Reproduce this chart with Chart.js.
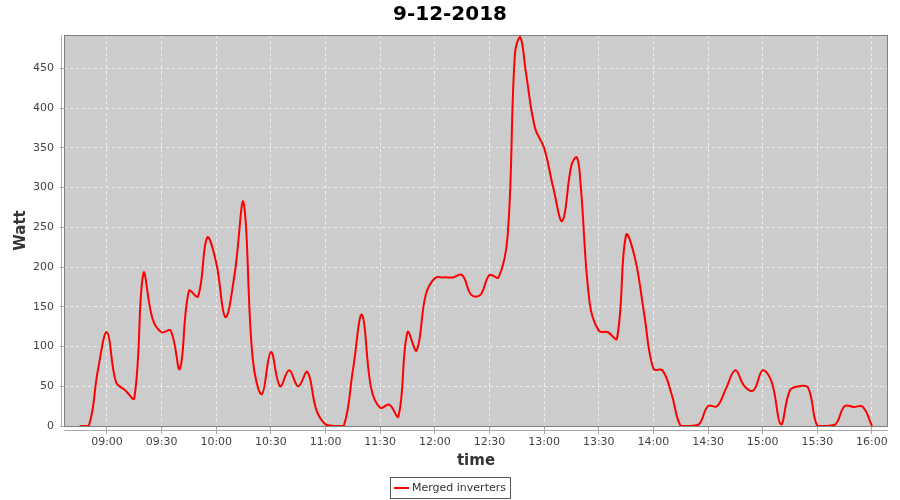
<!DOCTYPE html>
<html>
<head>
<meta charset="utf-8">
<script src="https://cdn.jsdelivr.net/npm/chart.js@4.4.1/dist/chart.umd.min.js"></script>
<style>
  html, body { margin: 0; padding: 0; background: #fff; }
  #wrap { width: 900px; height: 500px; }
</style>
</head>
<body>
<div id="wrap"><canvas id="myChart"></canvas></div>
<script>
const times = [
  "08:45", "08:50", "08:55", "09:00", "09:05", "09:10", "09:15", "09:20", "09:25", "09:30",
  "09:35", "09:40", "09:45", "09:50", "09:55", "10:00", "10:05", "10:10", "10:15", "10:20",
  "10:25", "10:30", "10:35", "10:40", "10:45", "10:50", "10:55", "11:00", "11:05", "11:10",
  "11:15", "11:20", "11:25", "11:30", "11:35", "11:40", "11:45", "11:50", "11:55", "12:00",
  "12:05", "12:10", "12:15", "12:20", "12:25", "12:30", "12:35", "12:40", "12:44", "12:47",
  "12:50", "12:55", "13:00", "13:05", "13:10", "13:15", "13:18", "13:20", "13:25", "13:30",
  "13:35", "13:40", "13:45", "13:50", "13:55", "14:00", "14:05", "14:10", "14:15", "14:20",
  "14:25", "14:30", "14:35", "14:40", "14:45", "14:50", "14:55", "15:00", "15:05", "15:10",
  "15:15", "15:20", "15:25", "15:30", "15:35", "15:40", "15:45", "15:50", "15:55", "16:00",
];
const watt = [
  0, 0, 70, 118, 55, 45, 35, 192, 135, 118,
  120, 72, 170, 163, 237, 205, 137, 190, 281, 85,
  40, 93, 50, 70, 50, 68, 20, 2, 0, 0,
  70, 140, 48, 23, 27, 12, 118, 95, 165, 186,
  187, 187, 190, 165, 165, 190, 187, 240, 469, 489,
  445, 375, 350, 300, 258, 328, 338, 305, 155, 120,
  118, 110, 240, 210, 140, 72, 70, 40, 0, 0,
  2, 25, 25, 48, 70, 50, 45, 70, 55, 2,
  45, 50, 48, 0, 0, 2, 25, 24, 24, 0,
];
const xTicks = ["09:00", "09:30", "10:00", "10:30", "11:00", "11:30", "12:00", "12:30",
  "13:00", "13:30", "14:00", "14:30", "15:00", "15:30", "16:00"];
const yTicks = [0, 50, 100, 150, 200, 250, 300, 350, 400, 450];

const toMin = s => { const p = s.split(":"); return +p[0] * 60 + +p[1]; };
const fmt = m => {
  const h = Math.floor(m / 60), mm = Math.round(m % 60);
  return String(h).padStart(2, "0") + ":" + String(mm).padStart(2, "0");
};

const points = times.map((t, i) => ({ x: toMin(t), y: watt[i] }));

// gray plot background, outline, offset axis lines and the boxed legend
const plotFrame = {
  id: "plotFrame",
  beforeDraw(chart) {
    const { ctx, chartArea: a } = chart;
    ctx.save();
    ctx.fillStyle = "#cccccc";
    ctx.fillRect(a.left, a.top, a.right - a.left, a.bottom - a.top);
    ctx.restore();
  },
  afterDraw(chart) {
    const { ctx, chartArea: a } = chart;
    ctx.save();
    ctx.strokeStyle = "#808080";
    ctx.lineWidth = 1;
    ctx.strokeRect(a.left + 0.5, a.top + 0.5, a.right - a.left - 1, a.bottom - a.top);
    ctx.strokeStyle = "#aaaaaa";
    ctx.beginPath();
    ctx.moveTo(a.left, a.bottom + 4.5);
    ctx.lineTo(a.right, a.bottom + 4.5);
    ctx.moveTo(a.left - 2.5, a.top);
    ctx.lineTo(a.left - 2.5, a.bottom);
    ctx.stroke();

    // legend
    const ds = chart.data.datasets[0];
    ctx.font = "11px 'DejaVu Sans'";
    const tw = ctx.measureText(ds.label).width;
    const w = Math.round(4 + 15 + 3 + tw + 4);
    const x0 = Math.round(450 - w / 2);
    const y0 = 477, h = 21, cy = y0 + h / 2;
    ctx.strokeStyle = "#555";
    ctx.strokeRect(x0 + 0.5, y0 + 0.5, w, h);
    ctx.strokeStyle = ds.borderColor;
    ctx.lineWidth = 2;
    ctx.beginPath();
    ctx.moveTo(x0 + 4, cy + 0.5);
    ctx.lineTo(x0 + 19, cy + 0.5);
    ctx.stroke();
    ctx.fillStyle = "#333";
    ctx.textBaseline = "middle";
    ctx.textAlign = "left";
    ctx.fillText(ds.label, x0 + 22, cy + 1);
    ctx.restore();
  },
};

const ctx = document.getElementById("myChart");

new Chart(ctx, {
  type: "line",
  data: {
    datasets: [
      {
        label: "Merged inverters",
        data: points,
        borderColor: "#ff0000",
        backgroundColor: "#ff0000",
        borderWidth: 2,
        pointRadius: 0,
        tension: 0.4,
        fill: false,
      },
    ],
  },
  options: {
    responsive: true,
    maintainAspectRatio: false,
    animation: false,
    layout: { padding: { left: 12, right: 12, top: 0, bottom: 20 } },
    plugins: {
      title: {
        display: true,
        text: "9-12-2018",
        color: "#000",
        font: { family: "DejaVu Sans", size: 20, weight: "bold" },
        padding: { top: 3, bottom: 8 },
      },
      legend: { display: false },
      tooltip: { enabled: false },
    },
    scales: {
      x: {
        type: "linear",
        min: 516.4,
        max: 968.8,
        afterBuildTicks: scale => {
          scale.ticks = xTicks.map(t => ({ value: toMin(t) }));
        },
        afterFit: scale => { scale.height = 54; },
        ticks: {
          callback: v => fmt(v),
          color: "#444",
          font: { family: "DejaVu Sans", size: 11 },
          maxRotation: 0,
          autoSkip: false,
          padding: 2,
        },
        grid: {
          color: "#eeeeee",
          tickColor: "#aaaaaa",
          tickLength: 8,
        },
        border: { display: false, dash: [3, 3] },
        title: {
          display: true,
          text: "time",
          color: "#333",
          font: { family: "DejaVu Sans", size: 15, weight: "bold" },
          padding: { top: 4, bottom: 10 },
        },
      },
      y: {
        min: 0,
        max: 492,
        afterBuildTicks: scale => {
          scale.ticks = yTicks.map(v => ({ value: v }));
        },
        afterFit: scale => { scale.width = 52; },
        ticks: {
          color: "#444",
          font: { family: "DejaVu Sans", size: 11 },
          padding: 6,
        },
        grid: {
          color: "#eeeeee",
          tickColor: "#aaaaaa",
          tickLength: 4,
        },
        border: { display: false, dash: [3, 3] },
        title: {
          display: true,
          text: "Watt",
          color: "#333",
          font: { family: "DejaVu Sans", size: 15, weight: "bold" },
          padding: { top: 0, bottom: 4 },
        },
      },
    },
  },
  plugins: [plotFrame],
});
</script>
</body>
</html>
